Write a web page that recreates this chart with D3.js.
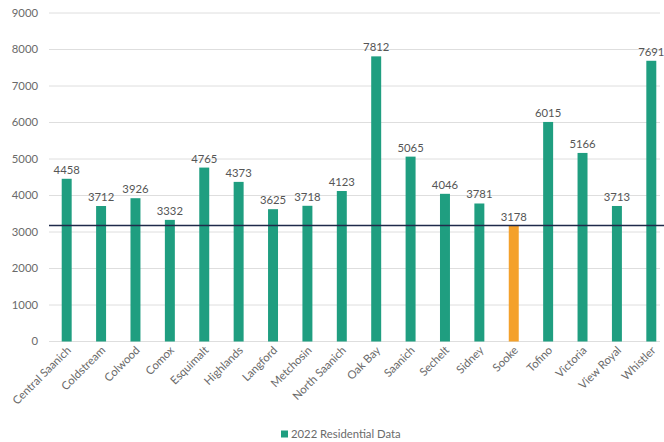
<!DOCTYPE html>
<html>
<head>
<meta charset="utf-8">
<script src="https://cdn.jsdelivr.net/npm/d3@7"></script>
<style>
  body { margin: 0; background: #fff; }
  text { font-family: Lato, "Open Sans", sans-serif; }
</style>
</head>
<body>
<svg id="chart" width="664" height="442"></svg>
<script>
// towns and 2022 residential values
const towns = ["Central Saanich", "Coldstream", "Colwood", "Comox", "Esquimalt", "Highlands",
  "Langford", "Metchosin", "North Saanich", "Oak Bay", "Saanich", "Sechelt", "Sidney",
  "Sooke", "Tofino", "Victoria", "View Royal", "Whistler"];
const values = [4458, 3712, 3926, 3332, 4765, 4373, 3625, 3718, 4123, 7812, 5065, 4046,
  3781, 3178, 6015, 5166, 3713, 7691];
const yTicks = [0, 1000, 2000, 3000, 4000, 5000, 6000, 7000, 8000, 9000];
const highlight = "Sooke";
const seriesName = "2022 Residential Data";

const svg = d3.select("#chart");

const x = d3.scaleBand().domain(towns).range([49.5, 668.5]).paddingInner(0.71).paddingOuter(0.355);
const y = d3.scaleLinear().domain([0, 9000]).range([341.5, 13]);

// gridlines + y labels
const yAxis = svg.append("g");
yAxis.selectAll("line")
  .data(yTicks)
  .enter()
  .append("line")
  .attr("x1", 49)
  .attr("x2", 660)
  .attr("y1", d => y(d))
  .attr("y2", d => y(d))
  .style("stroke", "#dedede")
  .style("stroke-width", 1);

yAxis.selectAll("text")
  .data(yTicks)
  .enter()
  .append("text")
  .attr("x", 38)
  .attr("y", d => y(d))
  .attr("dy", "0.35em")
  .style("text-anchor", "end")
  .style("font-size", "11.3px")
  .style("fill", "#6a6a6a")
  .text(d => d);

// bars
const data = towns.map((t, i) => ({ town: t, value: values[i] }));

svg.append("g")
  .selectAll("rect")
  .data(data)
  .enter()
  .append("rect")
  .attr("x", d => x(d.town))
  .attr("y", d => y(d.value))
  .attr("width", x.bandwidth())
  .attr("height", d => y(0) - y(d.value))
  .attr("fill", d => (d.town === highlight ? "#f4a12b" : "#1f9e80"));

// value labels
svg.append("g")
  .selectAll("text")
  .data(data)
  .enter()
  .append("text")
  .attr("x", d => x(d.town) + x.bandwidth() / 2)
  .attr("y", d => y(d.value) - 5)
  .style("text-anchor", "middle")
  .style("font-size", "11.3px")
  .style("fill", "#555555")
  .text(d => d.value);

// reference line at Sooke's value
const ref = values[towns.indexOf(highlight)];
svg.append("line")
  .attr("x1", 49)
  .attr("x2", 664)
  .attr("y1", y(ref))
  .attr("y2", y(ref))
  .style("stroke", "#1f2a4a")
  .style("stroke-width", 1.5);

// x labels, rotated
svg.append("g")
  .selectAll("text")
  .data(towns)
  .enter()
  .append("text")
  .attr("transform", d => `translate(${x(d) + x.bandwidth() / 2 + 5}, 351) rotate(-45)`)
  .style("text-anchor", "end")
  .style("font-size", "11.3px")
  .style("fill", "#6a6a6a")
  .text(d => d);

// legend
const legend = svg.append("g").attr("transform", "translate(281, 434)");
legend.append("rect")
  .attr("x", 0)
  .attr("y", -3.5)
  .attr("width", 7)
  .attr("height", 7)
  .attr("fill", "#1f9e80");
legend.append("text")
  .attr("x", 10)
  .attr("y", 0)
  .attr("dy", "0.35em")
  .style("font-size", "11.3px")
  .style("fill", "#6a6a6a")
  .text(seriesName);
</script>
</body>
</html>
